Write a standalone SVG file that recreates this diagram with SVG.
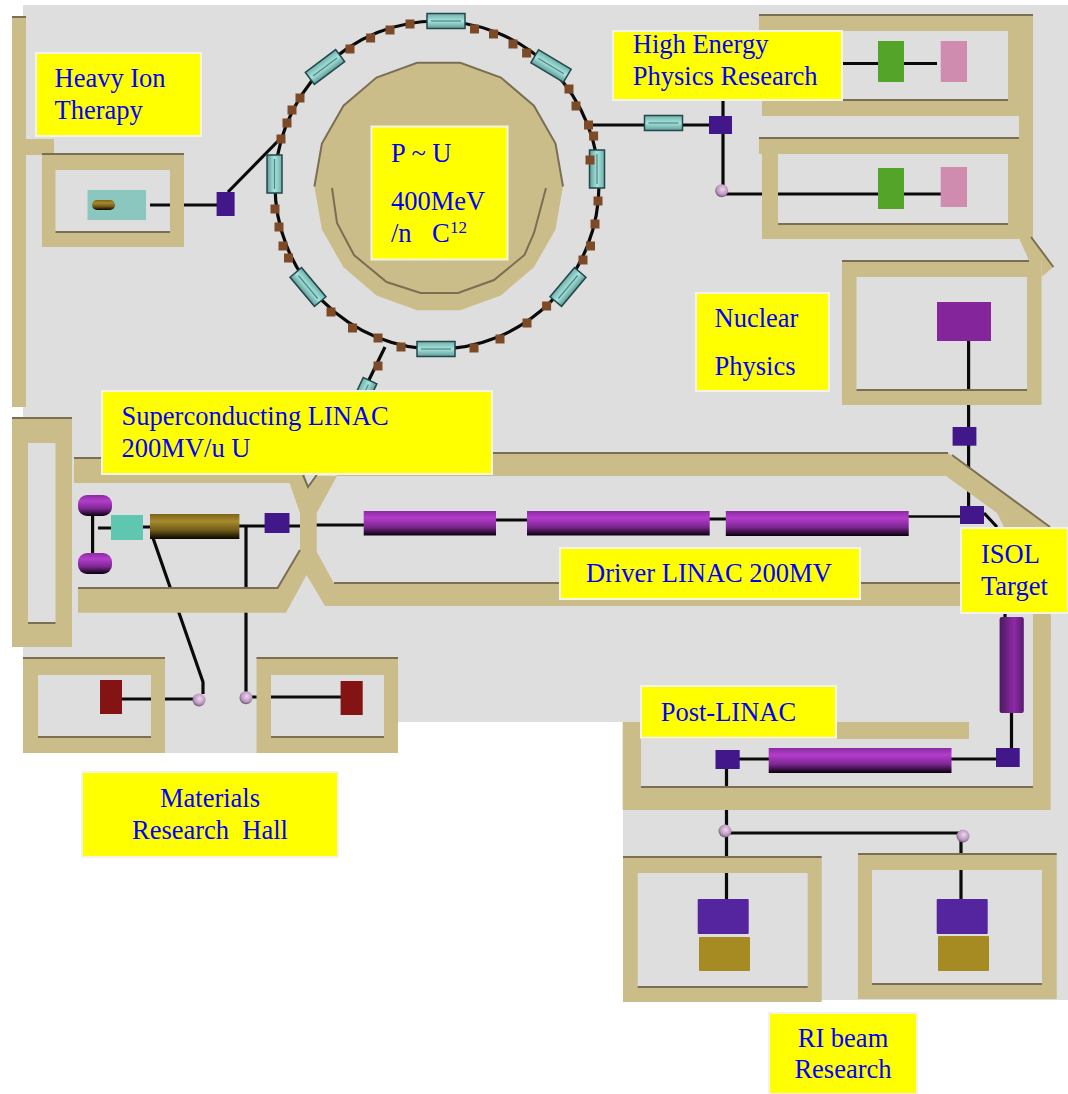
<svg xmlns="http://www.w3.org/2000/svg" width="1068" height="1094" viewBox="0 0 1068 1094">
<style>
.wall{fill:#cbbd8a;fill-rule:evenodd}
.edge{fill:none;stroke:#7a6f52;stroke-width:2}
.ln{fill:none;stroke:#0a0a0a;stroke-width:3.2}
.thin{stroke-width:2.5}
.lab{fill:#ffff00;stroke:#f4f4e4;stroke-width:2}
.t{font-family:"Liberation Serif","Times New Roman",serif;font-size:26.5px;fill:#0000ff}
.m{fill:#7d4a28}
.sq{fill:#42178a}
</style>
<defs>
<linearGradient id="cyl" x1="0" y1="0" x2="0" y2="1"><stop offset="0" stop-color="#8a2ba0"/><stop offset=".28" stop-color="#b43dcc"/><stop offset=".65" stop-color="#7d2792"/><stop offset="1" stop-color="#08000c"/></linearGradient>
<linearGradient id="cylv" x1="0" y1="0" x2="1" y2="0"><stop offset="0" stop-color="#4a1a60"/><stop offset=".6" stop-color="#8e2aa6"/><stop offset="1" stop-color="#5a1a72"/></linearGradient>
<linearGradient id="olive" x1="0" y1="0" x2="0" y2="1"><stop offset="0" stop-color="#7d6518"/><stop offset=".3" stop-color="#a68a2c"/><stop offset=".65" stop-color="#6f5a18"/><stop offset="1" stop-color="#080600"/></linearGradient>
<linearGradient id="mag" x1="0" y1="0" x2="0" y2="1"><stop offset="0" stop-color="#6fb0ac"/><stop offset=".5" stop-color="#a8e4dc"/><stop offset="1" stop-color="#5f9c9a"/></linearGradient>
<radialGradient id="ball" cx=".55" cy=".4" r=".6"><stop offset="0" stop-color="#eed6ee"/><stop offset=".7" stop-color="#b896bc"/><stop offset="1" stop-color="#6f5578"/></radialGradient>
<g id="magnet"><rect x="-19" y="-7.5" width="38" height="15" fill="url(#mag)" stroke="#23474a" stroke-width="1.5"/><path d="M-15 0H15" stroke="#4d8584" stroke-width="1.2"/></g>
<rect id="b" x="-4.500" y="-4.500" width="9" height="9" class="m"/>
<circle id="sph" r="6.500" fill="url(#ball)"/>
</defs>

<path id="floor" fill="#dedede" d="M23 5H1068V1000H623V722H398V753H23Z"/>

<g id="connectors">
<ellipse class="ln" cx="437" cy="185" rx="162" ry="164"/>
<path class="ln" d="M385 347L366 386M228 192L278 141M150 205H217M588 125H709M723 100V190M723 194H878M904 194H941M843 63.500H878M904 63.500H937"/>
<path class="ln" d="M968.600 341V428M968.600 445V506M984 513L997 527"/>
<path class="ln thin" d="M908 516.500H961"/>
<path class="ln" d="M98 528H112M92.600 510V560M143 527H151M239 526H265M289 526H301M316 525H364M496 520H528M709 519H726"/>
<path class="ln" d="M153 538L203 682V694M246 526V692M165 699H199M122 699H152M250 697H341"/>
<path class="ln" d="M1005 613V618M1011.500 713V749M951 759H997M739 759H769M726.500 769V857M726.500 873V899M726 833H963M961 836V899"/>
</g>

<g id="walls">
<path id="wall-left" class="wall" d="M12 17H26V407H12Z"/>
<path id="wall-stub" class="wall" d="M26 139H54V155H26Z"/>
<path id="room-therapy" class="wall" d="M42 155H184V247H42ZM55.500 170V232H170V170Z"/>
<path id="hall-central" class="wall" d="M460.300 62.700L500.900 77.600L533.900 105.700L555.500 143.500L563 186.500L555.500 229.500L533.900 267.300L500.900 295.400L460.300 310.300H417.100L376.500 295.400L343.500 267.300L321.900 229.500L314.400 186.500L321.900 143.500L343.500 105.700L376.500 77.600L417.100 62.700Z"/>
<path id="room-hep" class="wall" d="M759 15H1033V239H762V154H759V138H1019V116H762V100H759ZM775 31V100H1008V31ZM778 154V224H1008V154Z"/>
<path id="wall-diagonal" class="wall" d="M1019 238L1031 237L1053.400 267L1041.500 277V262H1029.600Z"/>
<path id="room-nuclear" class="wall" d="M842 261H1041.500V405H842ZM856.500 277V390H1027V277Z"/>
<path id="wall-upper-left" class="wall" d="M74 458H305V483H74Z"/>
<path id="wall-upper-right" class="wall" d="M337 453H948L1050 527V560H1020L997 513L946 476H337Z"/>
<path id="wall-x" class="wall" d="M289.500 483L300 513V550L277.600 588H78V612.700H286L306.500 575L325 606H961V583H333.800L316.700 551.700V513L337 476H316.700L308 487L303 475H285Z"/>
<path id="wall-isol" class="wall" d="M1033 613H1050.700V640H1033Z"/>
<path id="room-left" class="wall" d="M12 418H72V647H12ZM28 443V623H55.500V443Z"/>
<path id="room-mat1" class="wall" d="M23 658H165V753H23ZM38 675V737H151V675Z"/>
<path id="room-mat2" class="wall" d="M256.500 658H398V753H256.500ZM271 675V737H384V675Z"/>
<path id="room-post" class="wall" d="M622.700 722H969V739H641V787H1033V613H1050.700V810H622.700Z"/>
<path id="room-ri1" class="wall" d="M623 857H821.700V1002H623ZM637.700 873V987H807.700V873Z"/>
<path id="room-ri2" class="wall" d="M858 854H1056.700V999H858ZM872 870V984H1042V870Z"/>
<path id="wall-edges" class="edge" d="M12 17H26M42 154H184M55.500 232H170M759 15H1033M775 100H1008M759 138H1019M778 224H1008M842 261H1029M856.500 390H1027M1031 237L1053.400 267M12 418H72M28 623H55.500M74 458H110M78 588H277.600L300 550M334 583H961M337 453H948M952 455L1050 527M303 475L308 487L316.700 475M23 658H165M38 737H151M256.500 658H398M271 737H384M641 787H1033M623 857H821.700M637.700 987H807.700M858 854H1056.700M872 984H1042"/>
<path class="edge" stroke-width="1.500" d="M314.400 186.500L321.900 143.500L343.500 105.700L376.500 77.600L417.100 62.700H460.300L500.900 77.600L533.900 105.700L555.500 143.500L563 186.500M332 188L337 223L354 255L386.600 282L420.600 293H458L494 280L524.500 255L534 233L546 188"/>
</g>

<g id="ring-magnets">
<use href="#magnet" transform="translate(446 21)"/>
<use href="#magnet" transform="translate(325 67) rotate(-37)"/>
<use href="#magnet" transform="translate(274.500 174) rotate(90)"/>
<use href="#magnet" transform="translate(308 287) rotate(50)"/>
<use href="#magnet" transform="translate(436 349)"/>
<use href="#magnet" transform="translate(551 66) rotate(31)"/>
<use href="#magnet" transform="translate(597 169) rotate(90)"/>
<use href="#magnet" transform="translate(568 287) rotate(-50)"/>
<use href="#magnet" transform="translate(663.500 123)"/>
<use href="#magnet" transform="translate(362 398) rotate(-65)"/>
<use href="#b" x="410" y="24"/><use href="#b" x="390" y="30"/><use href="#b" x="370.600" y="38"/><use href="#b" x="350" y="49"/>
<use href="#b" x="300" y="98"/><use href="#b" x="292" y="110"/><use href="#b" x="287" y="123"/><use href="#b" x="281" y="139"/>
<use href="#b" x="275" y="209"/><use href="#b" x="279" y="227"/><use href="#b" x="283" y="246"/><use href="#b" x="288.500" y="258"/>
<use href="#b" x="331" y="312"/><use href="#b" x="352.500" y="328"/><use href="#b" x="378" y="338"/><use href="#b" x="401" y="347"/>
<use href="#b" x="474" y="348"/><use href="#b" x="500" y="339"/><use href="#b" x="527" y="323"/><use href="#b" x="546.600" y="306"/>
<use href="#b" x="474.500" y="29"/><use href="#b" x="493.500" y="34"/><use href="#b" x="513" y="44"/><use href="#b" x="526.600" y="53"/>
<use href="#b" x="569" y="89"/><use href="#b" x="576" y="106"/><use href="#b" x="588.500" y="125"/><use href="#b" x="593.600" y="136"/><use href="#b" x="590" y="160"/>
<use href="#b" x="598" y="201"/><use href="#b" x="595" y="224"/><use href="#b" x="590.500" y="246"/><use href="#b" x="583" y="260"/>
<use href="#b" x="378" y="366"/>
</g>

<g id="therapy-devices">
<rect x="87.500" y="190" width="58.500" height="30" fill="#8cc7bf"/>
<rect x="92" y="200" width="23" height="10" rx="5" fill="url(#olive)"/>
<rect class="sq" x="216.600" y="192" width="18" height="24"/>
</g>
<g id="hep-devices">
<rect class="sq" x="709" y="116" width="23" height="18"/>
<use href="#sph" x="721.700" y="190.700"/>
<rect x="878" y="41" width="26" height="41" fill="#55a42a"/>
<rect x="940.700" y="41" width="26.300" height="41" fill="#cf8cae"/>
<rect x="878" y="168" width="26" height="41" fill="#55a42a"/>
<rect x="940.700" y="167" width="26.300" height="40" fill="#cf8cae"/>
</g>
<g id="nuclear-devices">
<rect x="937" y="302" width="54" height="39" fill="#84259b"/>
<rect class="sq" x="952.600" y="427" width="23.800" height="18.700"/>
<rect class="sq" x="960" y="506" width="24" height="18"/>
</g>
<g id="driver-devices">
<rect x="78" y="495" width="34" height="21" rx="9" fill="url(#cyl)"/>
<rect x="78" y="553" width="34" height="21" rx="9" fill="url(#cyl)"/>
<rect x="111" y="515" width="32" height="25" fill="#5fc7b0"/>
<rect x="150" y="514" width="89.400" height="25" fill="url(#olive)"/>
<rect class="sq" x="264.600" y="513" width="24.900" height="20"/>
<rect x="363.700" y="511" width="132.300" height="24.500" fill="url(#cyl)"/>
<rect x="527" y="511" width="182.700" height="24.500" fill="url(#cyl)"/>
<rect x="725.800" y="511" width="182.900" height="25" fill="url(#cyl)"/>
</g>
<g id="materials-devices">
<use href="#sph" x="199" y="700"/>
<use href="#sph" x="246" y="697.700"/>
<rect x="100" y="680" width="22" height="34" fill="#841414"/>
<rect x="340.600" y="681" width="22.100" height="34" fill="#841414"/>
</g>
<g id="post-devices">
<rect x="999.600" y="617" width="24.200" height="96" rx="2" fill="url(#cylv)"/>
<rect class="sq" x="996" y="748" width="23.700" height="19"/>
<rect x="768.700" y="748" width="182.800" height="25" fill="url(#cyl)"/>
<rect class="sq" x="715.500" y="750" width="24.200" height="19"/>
<use href="#sph" x="725" y="831"/>
<use href="#sph" x="963" y="836"/>
</g>
<g id="ri-devices">
<rect x="697.700" y="899" width="51" height="35" rx="1" fill="#55259f"/>
<rect x="699" y="937" width="51" height="34" rx="1" fill="#a68a22"/>
<rect x="936.700" y="899" width="51" height="35" rx="1" fill="#55259f"/>
<rect x="938" y="936" width="51" height="35" rx="1" fill="#a68a22"/>
</g>

<g id="label-therapy"><rect class="lab" x="36" y="53" width="165" height="83"/><text class="t" x="54.500" y="87">Heavy Ion</text><text class="t" x="54.500" y="119">Therapy</text></g>
<g id="label-ring"><rect class="lab" x="371.500" y="126.500" width="136" height="133"/><text class="t" x="391" y="162">P ~ U</text><text class="t" x="391" y="210">400MeV</text><text class="t" x="391" y="242">/n</text><text class="t" x="432" y="242">C</text><text class="t" x="450" y="233" style="font-size:17px">12</text></g>
<g id="label-hep"><rect class="lab" x="613" y="31" width="229" height="69"/><text class="t" x="632.800" y="52.700">High Energy</text><text class="t" x="632.800" y="84.700">Physics Research</text></g>
<g id="label-nuclear"><rect class="lab" x="696" y="293" width="133" height="98"/><text class="t" x="714.500" y="327">Nuclear</text><text class="t" x="714.500" y="375">Physics</text></g>
<g id="label-sc"><rect class="lab" x="102" y="391" width="390" height="83"/><text class="t" x="121.600" y="425">Superconducting LINAC</text><text class="t" x="121.600" y="457">200MV/u U</text></g>
<g id="label-driver"><rect class="lab" x="560" y="548" width="300" height="51"/><text class="t" x="586" y="581.700">Driver LINAC 200MV</text></g>
<g id="label-isol"><rect class="lab" x="961" y="528" width="107" height="85"/><text class="t" x="981" y="563">ISOL</text><text class="t" x="981" y="595">Target</text></g>
<g id="label-post"><rect class="lab" x="641" y="686" width="195" height="51.700"/><text class="t" x="660.700" y="720.700">Post-LINAC</text></g>
<g id="label-materials"><rect class="lab" x="82" y="772" width="256" height="85"/><text class="t" x="210" y="807" text-anchor="middle">Materials</text><text class="t" x="210" y="839" text-anchor="middle" xml:space="preserve">Research  Hall</text></g>
<g id="label-ri"><rect class="lab" x="769" y="1013" width="148" height="81"/><text class="t" x="843" y="1046.700" text-anchor="middle">RI beam</text><text class="t" x="843" y="1078" text-anchor="middle">Research</text></g>
</svg>
